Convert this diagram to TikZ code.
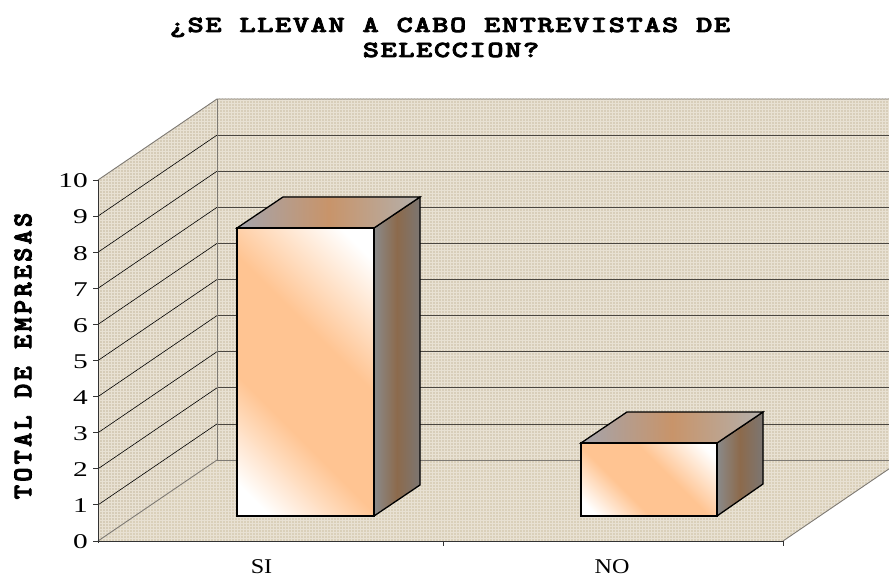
\documentclass[tikz,border=0pt]{standalone}
\usepackage{fontspec}
\usetikzlibrary{patterns}
\setmainfont{Liberation Serif}
\newfontfamily\titlefont[FakeStretch=1.35,LetterSpace=6.5,FakeBold=3.5]{lmmonolt10-bold.otf}
\newfontfamily\ytitlefont[LetterSpace=12,FakeBold=3.5]{lmmonolt10-bold.otf}
\newfontfamily\axfont[FakeStretch=1.4]{Liberation Serif}
\newfontfamily\catfont[FakeStretch=1.15]{Liberation Serif}
\definecolor{backwallc}{HTML}{D8CEBA}
\definecolor{sidewallc}{HTML}{D6CCB8}
\definecolor{floorc}{HTML}{DAD0BA}
\definecolor{texturec}{HTML}{E8E1D3}
\definecolor{edgec}{HTML}{7E7A74}
\definecolor{gridc}{HTML}{4A4640}
\definecolor{barorange}{HTML}{FFC492}
\definecolor{toptan}{HTML}{C8946A}
\definecolor{topgrayl}{HTML}{A4A4AC}
\definecolor{topgrayr}{HTML}{B4B0AC}
\definecolor{sidebrown}{HTML}{8C6A4C}
\definecolor{sidegrayl}{HTML}{8A8A8A}
\definecolor{sidegrayr}{HTML}{7C7672}
\pgfdeclareverticalshading{barfrontshade}{100bp}{color(0bp)=(white); color(20bp)=(white); color(38bp)=(barorange); color(58bp)=(barorange); color(80bp)=(white); color(100bp)=(white)}
\tikzset{
  edgeline/.style={draw=edgec, line width=0.9pt},
  gridback/.style={draw=gridc, line width=0.8pt},
  gridside/.style={draw=black, line width=0.6pt},
  axisline/.style={draw=black!80, line width=0.9pt},
  texture/.style={pattern=grid, pattern color=texturec},
  frontface/.style={draw=black, line width=1.3pt, shading=barfrontshade, shading angle=-45},
  topface/.style={draw=black, line width=1.3pt, shading=axis, left color=topgrayl, right color=topgrayr, middle color=toptan},
  rightface/.style={draw=black, line width=1.3pt, shading=axis, left color=sidegrayl, right color=sidegrayr, middle color=sidebrown},
  titletext/.style={font=\titlefont\fontsize{23}{26}\selectfont, anchor=base, inner sep=0pt},
  ytitletext/.style={font=\ytitlefont\fontsize{27}{30}\selectfont, rotate=90, inner sep=0pt},
  ticktext/.style={font=\axfont\fontsize{21}{22}\selectfont, anchor=east, inner sep=0pt},
  cattext/.style={font=\catfont\fontsize{21}{22}\selectfont, anchor=base, inner sep=0pt}
}
\begin{document}
\begin{tikzpicture}[x=1pt,y=-1pt]
\useasboundingbox (0,0) rectangle (889,577);
\fill[white] (0,0) rectangle (889,577);
\begin{scope}
\clip (0,0) rectangle (889,577);
% walls and floor
\fill[backwallc] (217,99) rectangle (920,460);
\fill[sidewallc] (98,541) -- (98,180) -- (217,99) -- (217,460) -- cycle;
\fill[floorc] (98,541) -- (783,541) -- (902,460) -- (217,460) -- cycle;
\fill[texture] (217,99) rectangle (920,460);
\fill[texture] (98,541) -- (98,180) -- (217,99) -- (217,460) -- cycle;
\fill[texture] (98,541) -- (783,541) -- (902,460) -- (217,460) -- cycle;
% grid lines
\foreach \v in {1,...,9} {
  \draw[gridback] (217,{460-36.1*\v}) -- (920,{460-36.1*\v});
  \draw[gridside] (98,{541-36.1*\v}) -- (217,{460-36.1*\v});
}
% edges
\draw[edgeline] (98,180) -- (217,99) -- (920,99);
\draw[edgeline] (217,99) -- (217,460) -- (920,460);
\draw[edgeline] (98,541) -- (217,460);
\draw[edgeline] (783,541) -- (902,460);
\end{scope}
% axes
\draw[axisline] (98,180) -- (98,543);
\draw[axisline] (98,541) -- (783,541);
\foreach \v in {0,...,10} {
  \draw[axisline] (93,{541-36.1*\v}) -- (98,{541-36.1*\v});
  \node[ticktext] (tick\v) at (88,{542-36.1*\v}) {\v};
}
\draw[axisline] (443,541) -- (443,546);
\draw[axisline] (783,541) -- (783,546);
% bar SI
\fill[rightface] (374,516) -- (374,228) -- (420,197) -- (420,485) -- cycle;
\fill[topface] (237,228) -- (283,197) -- (420,197) -- (374,228) -- cycle;
\fill[frontface] (237,228) rectangle (374,516);
% bar NO
\fill[rightface] (717,516) -- (717,443) -- (763,412) -- (763,484) -- cycle;
\fill[topface] (581,443) -- (627,412) -- (763,412) -- (717,443) -- cycle;
\fill[frontface] (581,443) rectangle (717,516);
% texts
\node[titletext] (title1) at (450,32) {¿SE LLEVAN A CABO ENTREVISTAS DE};
\node[titletext] (title2) at (451,57) {SELECCION?};
\node[ytitletext] (ytitle) at (23,356) {TOTAL DE EMPRESAS};
\node[cattext] (catsi) at (261.5,573) {SI};
\node[cattext] (catno) at (612,573) {NO};
\end{tikzpicture}
\end{document}
